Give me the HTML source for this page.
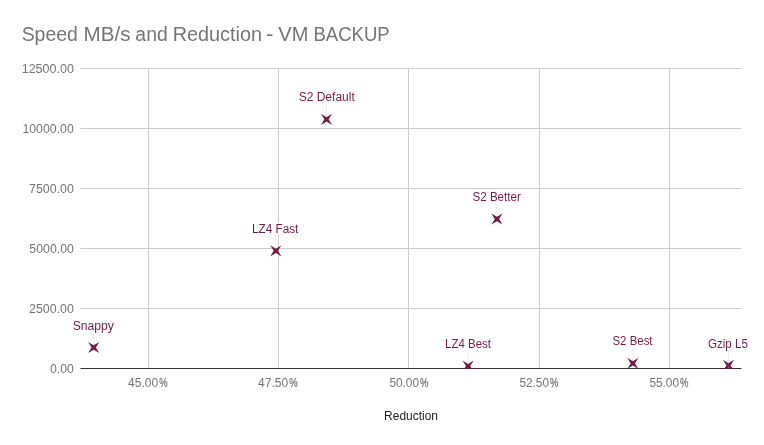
<!DOCTYPE html>
<html lang="en">
<head>
<meta charset="utf-8">
<title>Speed MB/s and Reduction - VM BACKUP</title>
<style>
html,body{margin:0;padding:0;background:#fff;}
body{width:764px;height:445px;overflow:hidden;}
svg{display:block;}
text{font-family:"Liberation Sans",sans-serif;}
.t{font-size:20px;fill:#757575;}
.ax{font-size:12px;fill:#757575;}
.an{font-size:12px;fill:#741b47;stroke:#fff;stroke-width:3px;paint-order:stroke;stroke-linejoin:round;}
.xt{font-size:12px;fill:#222;}
.pc{stroke:#757575;stroke-width:.25px;}
</style>
</head>
<body>
<svg width="764" height="445" viewBox="0 0 764 445">
<rect x="0" y="0" width="764" height="445" fill="#ffffff"/>
<text class="t" y="40.7"><tspan x="21.63" textLength="56.28" lengthAdjust="spacingAndGlyphs">Speed</tspan> <tspan x="83.52" textLength="46.98" lengthAdjust="spacingAndGlyphs">MB/s</tspan> <tspan x="135.35" textLength="32.36" lengthAdjust="spacingAndGlyphs">and</tspan> <tspan x="172.69" textLength="89.31" lengthAdjust="spacingAndGlyphs">Reduction</tspan> <tspan x="266.01" textLength="7.53" lengthAdjust="spacingAndGlyphs">-</tspan> <tspan x="278.37" textLength="30.05" lengthAdjust="spacingAndGlyphs">VM</tspan> <tspan x="313.49" textLength="76.23" lengthAdjust="spacingAndGlyphs">BACKUP</tspan></text>
<g fill="#cccccc">
<rect x="148" y="68" width="1" height="300"/>
<rect x="278" y="68" width="1" height="300"/>
<rect x="408" y="68" width="1" height="300"/>
<rect x="539" y="68" width="1" height="300"/>
<rect x="669" y="68" width="1" height="300"/>
<rect x="80.5" y="68" width="661" height="1"/>
<rect x="80.5" y="128" width="661" height="1"/>
<rect x="80.5" y="188" width="661" height="1"/>
<rect x="80.5" y="248" width="661" height="1"/>
<rect x="80.5" y="308" width="661" height="1"/>
</g>
<rect x="80.5" y="368" width="661" height="1" fill="#333333"/>
<text class="ax" x="21.69" y="72.8" textLength="52.17" lengthAdjust="spacingAndGlyphs">12500.00</text>
<text class="ax" x="22.4" y="132.8" textLength="51.45" lengthAdjust="spacingAndGlyphs">10000.00</text>
<text class="ax" x="29.05" y="192.8" textLength="44.88" lengthAdjust="spacingAndGlyphs">7500.00</text>
<text class="ax" x="29.29" y="252.8" textLength="44.64" lengthAdjust="spacingAndGlyphs">5000.00</text>
<text class="ax" x="29.05" y="312.8" textLength="44.88" lengthAdjust="spacingAndGlyphs">2500.00</text>
<text class="ax" x="49.99" y="372.8" textLength="23.91" lengthAdjust="spacingAndGlyphs">0.00</text>
<text class="ax" y="386.7"><tspan x="128" textLength="30.13" lengthAdjust="spacingAndGlyphs">45.00</tspan><tspan class="pc" x="159.16" textLength="8.38" lengthAdjust="spacingAndGlyphs">%</tspan></text>
<text class="ax" y="386.7"><tspan x="258" textLength="30.13" lengthAdjust="spacingAndGlyphs">47.50</tspan><tspan class="pc" x="289.15" textLength="8.43" lengthAdjust="spacingAndGlyphs">%</tspan></text>
<text class="ax" y="386.7"><tspan x="389.41" textLength="29.62" lengthAdjust="spacingAndGlyphs">50.00</tspan><tspan class="pc" x="420.1" textLength="8.43" lengthAdjust="spacingAndGlyphs">%</tspan></text>
<text class="ax" y="386.7"><tspan x="519.41" textLength="29.62" lengthAdjust="spacingAndGlyphs">52.50</tspan><tspan class="pc" x="550.1" textLength="8.43" lengthAdjust="spacingAndGlyphs">%</tspan></text>
<text class="ax" y="386.7"><tspan x="649.41" textLength="29.62" lengthAdjust="spacingAndGlyphs">55.00</tspan><tspan class="pc" x="680.1" textLength="8.43" lengthAdjust="spacingAndGlyphs">%</tspan></text>
<text class="xt" x="384.1" y="419.7" textLength="53.89" lengthAdjust="spacingAndGlyphs">Reduction</text>
<defs>
<clipPath id="c"><rect x="81" y="68" width="661" height="301"/></clipPath>
<path id="m" d="M-5.6,-5.6 L0,-2.15 L5.6,-5.6 L2.15,0 L5.6,5.6 L0,2.15 L-5.6,5.6 L-2.15,0 Z"/>
</defs>
<g stroke="#eeeeee" stroke-width="1">
<line x1="93.7" y1="332.4" x2="93.7" y2="347.5"/>
<line x1="275.85" y1="235" x2="275.85" y2="250.85"/>
<line x1="326.5" y1="103.4" x2="326.5" y2="119.3"/>
<line x1="496.95" y1="203.2" x2="496.95" y2="219"/>
<line x1="468.1" y1="350.2" x2="468.1" y2="366.1"/>
<line x1="632.85" y1="347.2" x2="632.85" y2="363.4"/>
<line x1="728.5" y1="350.2" x2="728.5" y2="365.4"/>
</g>
<g fill="#741b47" clip-path="url(#c)">
<use href="#m" x="93.7" y="347.5"/>
<use href="#m" x="275.85" y="250.85"/>
<use href="#m" x="326.5" y="119.3"/>
<use href="#m" x="496.95" y="219"/>
<use href="#m" x="468.1" y="366.1"/>
<use href="#m" x="632.85" y="363.4"/>
<use href="#m" x="728.5" y="365.4"/>
</g>
<g class="an">
<text class="an" x="72.67" y="329.6" textLength="41.31" lengthAdjust="spacingAndGlyphs">Snappy</text>
<text class="an" x="251.92" y="232.7" textLength="46.49" lengthAdjust="spacingAndGlyphs">LZ4 Fast</text>
<text class="an" x="298.67" y="100.6" textLength="56.1" lengthAdjust="spacingAndGlyphs">S2 Default</text>
<text class="an" x="472.5" y="200.7" textLength="48.3" lengthAdjust="spacingAndGlyphs">S2 Better</text>
<text class="an" x="445.04" y="347.7" textLength="45.96" lengthAdjust="spacingAndGlyphs">LZ4 Best</text>
<text class="an" x="612.5" y="344.7" textLength="40.04" lengthAdjust="spacingAndGlyphs">S2 Best</text>
<text class="an" x="708" y="347.7" textLength="39.82" lengthAdjust="spacingAndGlyphs">Gzip L5</text>
</g>
</svg>
</body>
</html>
